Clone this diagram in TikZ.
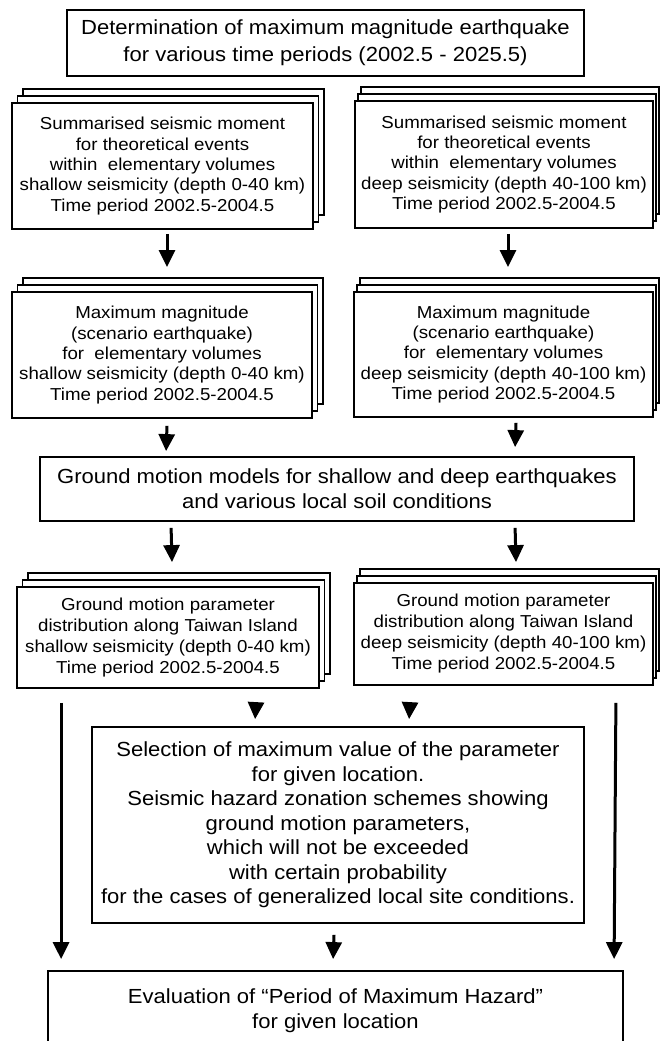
\documentclass[tikz,border=0pt]{standalone}
\usepackage{fontspec}
\setmainfont{Liberation Sans}[FakeStretch=1.08]
\usetikzlibrary{arrows.meta,calc}
\tikzset{
  box/.style={draw=black, line width=1.8pt, fill=white, inner sep=0pt, align=center, text=black},
  layer/.style={draw=black, line width=1.6pt, fill=white},
  big/.style={font=\fontsize{20.4}{25}\selectfont},
  small/.style={font=\fontsize{17.3}{20.3}\selectfont},
  arr/.style={draw=black, line width=3pt, -{Triangle[length=17pt,width=16pt]}},
}
% #1 name, #2 x, #3 y, #4 width, #5 height, #6 layer x-offset, #7 style, #8 text
\newcommand\mystack[8]{%
  \foreach \k in {2,1}{%
    \draw[layer] ($(#2,#3)+(\k*#6,-\k*7)$) +(-#4/2,-#5/2) rectangle +(#4/2,#5/2);
  }
  \node[box,#7,minimum width=#4pt,minimum height=#5pt] (#1) at (#2,#3) {#8};
}
\begin{document}
\begin{tikzpicture}[x=1pt,y=-1pt]
\useasboundingbox[fill=white] (0,0) rectangle (659,1041);

\node[box,font=\fontsize{20.4}{27}\selectfont,minimum width=517pt,minimum height=66pt] (top) at (325.5,43)
  {Determination of maximum magnitude earthquake\\for various time periods (2002.5 - 2025.5)};

\mystack{ls1}{162.5}{166}{301}{126}{5.5}{small}
  {Summarised seismic moment\\for theoretical events\\within\ \ elementary volumes\\shallow seismicity (depth 0-40 km)\\Time period 2002.5-2004.5}
\mystack{rs1}{504}{164.5}{298}{127}{3}{small}
  {Summarised seismic moment\\for theoretical events\\within\ \ elementary volumes\\deep seismicity (depth 40-100 km)\\Time period 2002.5-2004.5}

\mystack{ls2}{162}{355}{300}{126}{5.5}{small}
  {Maximum magnitude\\(scenario earthquake)\\for\ \ elementary volumes\\shallow seismicity (depth 0-40 km)\\Time period 2002.5-2004.5}
\mystack{rs2}{503.5}{354.5}{299}{125}{3}{small}
  {Maximum magnitude\\(scenario earthquake)\\for\ \ elementary volumes\\deep seismicity (depth 40-100 km)\\Time period 2002.5-2004.5}

\node[box,big,minimum width=594pt,minimum height=64pt] (gm) at (337,489)
  {Ground motion models for shallow and deep earthquakes\\and various local soil conditions};

\mystack{ls3}{168}{637.5}{302}{101}{5.5}{font=\fontsize{17.3}{21}\selectfont}
  {Ground motion parameter\\distribution along Taiwan Island\\shallow seismicity (depth 0-40 km)\\Time period 2002.5-2004.5}
\mystack{rs3}{503.5}{634}{299}{102}{3}{font=\fontsize{17.3}{21}\selectfont}
  {Ground motion parameter\\distribution along Taiwan Island\\deep seismicity (depth 40-100 km)\\Time period 2002.5-2004.5}

\node[box,font=\fontsize{20.4}{24.5}\selectfont,minimum width=492pt,minimum height=196pt] (sel) at (338,825)
  {Selection of maximum value of the parameter\\for given location.\\Seismic hazard zonation schemes showing\\ground motion parameters,\\which will not be exceeded\\with certain probability\\for the cases of generalized local site conditions.};

\node[box,big,minimum width=575pt,minimum height=79pt] (fin) at (335.5,1010.5)
  {Evaluation of “Period of Maximum Hazard”\\for given location};

% connectors
\draw[arr] ($(ls1.south)+(4.5,4)$) -- ($(ls2.north)+(5,-24)$);
\draw[arr] ($(rs1.south)+(4,5)$) -- ($(rs2.north)+(4.5,-24)$);
\draw[arr] ($(ls2.south)+(5,7)$) -- ($(gm.north west)+(127,-5)$);
\draw[arr] ($(rs2.south)+(12.5,5)$) -- ($(gm.north west)+(476,-9)$);
\draw[arr] ($(gm.south west)+(132,6)$) -- ($(ls3.north)+(4,-24)$);
\draw[arr] ($(gm.south west)+(476,6)$) -- ($(rs3.north)+(12.5,-20)$);
\draw[arr] ($(ls3.south)+(88,14)$) -- ($(sel.north west)+(164,-7)$);
\draw[arr] ($(rs3.south)+(-93.5,17)$) -- ($(sel.north west)+(318,-7)$);
\draw[arr] ($(ls3.south west)+(45,14)$) -- ($(fin.north west)+(14,-11)$);
\draw[arr] ($(rs3.south east)+(-38,17)$) -- ($(fin.north west)+(567,-11)$);
\draw[arr] ($(sel.south)+(-4,11)$) -- ($(fin.north west)+(286,-11)$);
\end{tikzpicture}
\end{document}
